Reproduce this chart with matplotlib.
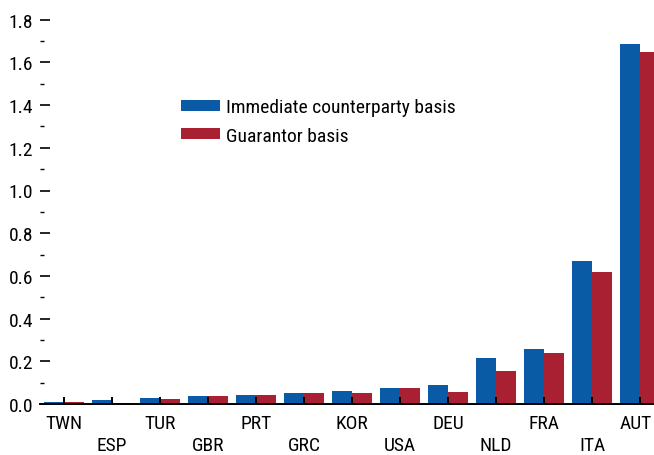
import numpy as np
import matplotlib
matplotlib.use("Agg")
import matplotlib.pyplot as plt
import matplotlib.transforms as mtransforms
from matplotlib.ticker import MultipleLocator

plt.rcParams['font.family'] = ['Roboto Condensed', 'DejaVu Sans']

countries = ["TWN", "ESP", "TUR", "GBR", "PRT", "GRC", "KOR",
             "USA", "DEU", "NLD", "FRA", "ITA", "AUT"]
immediate = [0.009, 0.020, 0.028, 0.037, 0.042, 0.051, 0.060,
             0.075, 0.089, 0.215, 0.257, 0.670, 1.686]
guarantor = [0.009, 0.005, 0.023, 0.037, 0.042, 0.051, 0.051,
             0.075, 0.056, 0.155, 0.239, 0.618, 1.649]

blue = "#0A5BA5"
red = "#A82032"

fig = plt.figure(figsize=(6.54, 4.56), dpi=100)
ax = fig.add_axes([40/654, 1 - 405/456, 614/654, (405 - 20.7)/456])

x = np.arange(len(countries))
w = 0.41
ax.bar(x - w/2, immediate, w, color=blue, label="Immediate counterparty basis")
ax.bar(x + w/2, guarantor, w, color=red, label="Guarantor basis")

ax.set_xlim(-0.5, -0.5 + 614/48)
ax.set_ylim(0, 1.8)

for s in ["top", "right", "left"]:
    ax.spines[s].set_visible(False)
ax.spines["bottom"].set_linewidth(1.4)

ax.yaxis.set_minor_locator(MultipleLocator(0.1))
ax.set_yticks(np.arange(0, 1.81, 0.2))
ax.set_yticklabels([f"{v:.1f}" for v in np.arange(0, 1.81, 0.2)])
ax.tick_params(axis="y", which="major", direction="in", length=7, width=1.2,
               pad=5, labelsize=14)
ax.tick_params(axis="y", which="minor", direction="in", length=3, width=1.0)

ax.set_xticks(x)
ax.set_xticklabels([c if i % 2 == 0 else "\n" + c for i, c in enumerate(countries)],
                   linespacing=1.3)
ax.tick_params(axis="x", direction="in", length=5, width=1.4, pad=7, labelsize=14)

# last label sits right at the figure edge, nudge it a bit left
last = ax.get_xticklabels()[-1]
last.set_transform(last.get_transform() +
                   mtransforms.ScaledTranslation(-4/100, 0, fig.dpi_scale_trans))

fig.legend(loc="upper left", bbox_to_anchor=(181/654, 1 - 99/456), frameon=False,
           fontsize=14, handlelength=2.0, handleheight=0.5, handletextpad=0.3,
           labelspacing=0.55, borderpad=0, borderaxespad=0)

fig.savefig("out.png", dpi=100)
